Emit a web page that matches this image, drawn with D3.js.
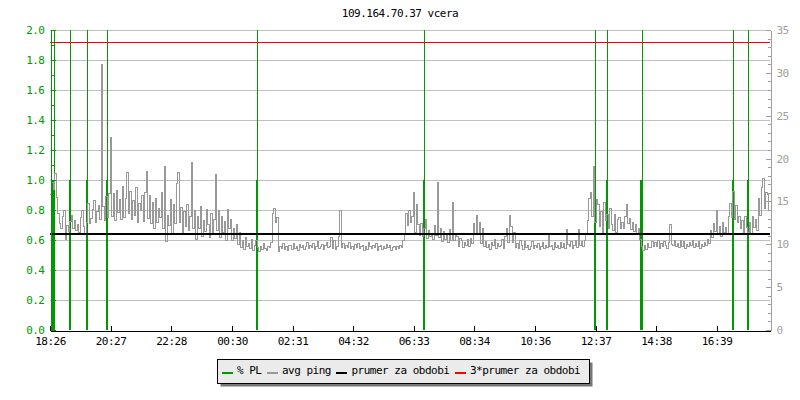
<!DOCTYPE html>
<meta charset="utf-8">
<style>

body { margin: 0; background: #fff; }

svg text {
  font-family: "DejaVu Sans Mono", monospace;
  font-size: 11px;
  letter-spacing: -0.5px;
}

.grid line {
  stroke: #c0c0c0;
  shape-rendering: crispEdges;
}

.axis path, .axis line {
  shape-rendering: crispEdges;
}

.axis--left path, .axis--left line { stroke: #009900; }
.axis--left text { fill: #009900; }
.axis--right path, .axis--right line { stroke: #a0a0a0; }
.axis--right text { fill: #a0a0a0; }
.axis--x path, .axis--x line { stroke: #000; }
.axis--x text { fill: #000; }

.ping {
  fill: none;
  stroke: #999999;
  stroke-width: 1px;
  shape-rendering: crispEdges;
}

</style>
<svg width="800" height="400"></svg>
<script src="https://cdn.jsdelivr.net/npm/d3@7/dist/d3.min.js"></script>
<script>

var title = "109.164.70.37 vcera";
var startTime = "18:26";
var timeLabels = ["18:26", "20:27", "22:28", "00:30", "02:31", "04:32",
                  "06:33", "08:34", "10:36", "12:37", "14:38", "16:39"];

// avg ping [ms], one sample every pingStep minutes from startTime
var pingStep = 3;
var pingValues = [
  15.8, 17.2, 16.4, 18.3, 15.5, 13.6, 12.4, 11.8, 13.3, 13.9,
  10.6, 12.2, 11.5, 12.7, 13.4, 11.9, 12.8, 11.6, 12.3, 11.4,
  13.1, 13.9, 12.1, 11.2, 12.6, 14.8, 12.4, 13.0, 14.1, 15.1,
  12.6, 13.8, 14.5, 12.9, 31.0, 14.4, 12.8, 15.6, 13.1, 15.9,
  22.5, 13.2, 15.9, 12.8, 16.3, 13.7, 15.2, 12.9, 16.8, 13.1,
  15.4, 18.4, 13.6, 16.2, 12.9, 15.1, 13.4, 16.6, 12.5, 14.8,
  13.9, 15.7, 12.7, 16.1, 18.5, 13.0, 15.7, 12.4, 14.9, 11.8,
  15.3, 12.6, 14.2, 13.1, 16.0, 11.9, 19.1, 10.3, 13.4, 12.2,
  15.2, 11.3, 14.6, 12.4, 17.1, 18.4, 12.6, 14.3, 11.4, 13.8,
  12.1, 14.7, 11.6, 13.2, 19.6, 11.9, 14.0, 10.6, 13.2, 11.8,
  14.4, 10.9, 12.8, 11.5, 14.1, 12.3, 10.8, 13.6, 11.2, 12.9,
  18.1, 11.6, 13.9, 10.8, 13.2, 11.4, 12.7, 10.5, 14.1, 11.9,
  12.9, 10.4, 11.8, 10.7, 12.3, 10.0, 11.4, 9.6, 10.4, 9.4,
  10.8, 9.7, 10.1, 9.5, 10.6, 9.3, 9.9, 10.4, 9.6, 9.2,
  9.8, 9.4, 10.1, 9.5, 9.3, 9.8, 9.6, 10.2, 13.6, 14.2,
  12.5, 13.1, 9.2, 9.8, 9.5, 10.1, 9.4, 9.7, 9.3, 9.9,
  9.9, 9.4, 10.1, 9.5, 9.8, 9.3, 10.0, 9.6, 9.9, 9.4,
  9.7, 10.2, 9.5, 9.9, 9.6, 10.1, 9.4, 9.8, 10.3, 9.5,
  9.7, 10.0, 9.4, 9.9, 10.2, 9.6, 9.8, 10.8, 9.5, 10.4,
  9.4, 9.8, 10.9, 13.9, 9.6, 10.1, 9.5, 9.9, 9.6, 10.2,
  9.5, 9.8, 9.4, 10.0, 9.6, 10.1, 9.5, 9.8, 9.9, 9.3,
  9.7, 9.4, 10.2, 9.8, 9.5, 9.9, 9.6, 10.1, 9.3, 9.7,
  9.9, 9.4, 9.8, 9.5, 10.0, 9.6, 9.9, 9.3, 9.6, 9.8,
  9.4, 9.7, 9.5, 9.9, 9.6, 10.4, 11.2, 13.6, 12.2, 14.0,
  12.5, 13.2, 16.1, 11.4, 14.6, 12.3, 11.0, 12.4, 10.9, 11.8,
  12.9, 10.7, 11.6, 10.9, 11.3, 10.6, 12.2, 11.0, 17.2, 10.8,
  11.9, 10.3, 11.5, 10.6, 11.1, 10.2, 11.7, 10.4, 14.9, 10.4,
  11.3, 10.9, 9.8, 10.7, 10.5, 9.6, 10.2, 9.9, 10.6, 9.7,
  10.7, 10.1, 12.4, 11.3, 13.4, 11.2, 12.6, 10.1, 11.8, 9.8,
  10.3, 9.6, 10.0, 9.4, 10.2, 9.9, 10.6, 9.5, 10.1, 9.7,
  9.9, 10.6, 9.5, 10.9, 11.8, 10.2, 13.4, 12.1, 10.2, 11.4,
  9.6, 10.1, 9.5, 10.4, 9.9, 9.4, 10.3, 9.6, 9.9, 9.4,
  9.8, 10.3, 9.5, 9.9, 9.6, 10.1, 9.4, 9.8, 10.2, 9.5,
  9.9, 9.6, 11.0, 9.7, 9.9, 9.4, 10.2, 9.6, 9.9, 9.5,
  10.2, 9.6, 10.1, 9.5, 11.7, 10.0, 9.8, 10.3, 9.5, 9.9,
  10.4, 9.6, 11.7, 9.9, 10.3, 9.7, 10.4, 11.2, 12.8, 15.4,
  16.0, 13.2, 19.1, 12.6, 15.2, 14.6, 12.1, 13.8, 11.4, 14.9,
  12.8, 13.5, 11.9, 14.2, 12.3, 11.6, 13.5, 11.4, 12.9, 13.1,
  11.8, 12.5, 11.9, 13.2, 14.6, 12.4, 13.0, 11.7, 12.6, 11.5,
  12.3, 11.2, 11.9, 10.6, 9.8, 9.3, 9.9, 9.4, 10.1, 9.6,
  9.6, 10.3, 9.7, 10.2, 9.8, 10.4, 9.5, 10.1, 9.7, 10.3,
  9.9, 9.5, 10.2, 12.3, 10.0, 9.9, 10.5, 9.7, 10.1, 9.6,
  10.4, 9.8, 10.3, 9.5, 10.0, 9.7, 10.2, 9.9, 10.4, 9.6,
  10.1, 9.8, 10.3, 9.5, 10.0, 9.7, 10.2, 9.9, 10.6, 10.1,
  11.6, 10.8, 12.4, 11.5, 14.0, 11.2, 12.1, 10.9, 12.6, 11.4,
  12.0, 11.1, 13.2, 14.8, 13.1, 16.2, 12.9, 14.5, 12.6, 13.3,
  11.9, 12.8, 11.3, 13.2, 12.0, 11.4, 12.6, 11.2, 13.2, 12.0,
  12.9, 11.6, 15.3, 13.4, 16.6, 17.7, 14.2, 16.1, 15.8, 13.9
];

// packet loss [%]: bars and their short peaks
var plTimes     = ["18:29", "18:34", "19:05", "19:40", "20:20", "01:20",
                   "06:54", "12:36", "13:00", "14:09", "17:12", "17:42"];
var plValues    = [1.0, 1.0, 1.0, 1.0, 1.0, 1.0, 1.0, 0.87, 1.0, 1.0, 1.0, 1.0];
var plPeaks     = [0, 5, 5, 5, 5, 5, 5, 5, 5, 5, 5, 5];
var plDurations = [4, 4, 4, 4, 4, 4, 4, 4, 4, 6, 4, 4];

var meanPing = 11.19;

var seriesNames  = ["% PL", "avg ping", "prumer za obdobi", "3*prumer za obdobi"];
var seriesColors = ["#009900", "#999999", "#000000", "#ff0000"];

var svg = d3.select("svg"),
    margin = {top: 30, right: 30, bottom: 70, left: 50},
    width = svg.attr("width") - margin.left - margin.right,
    height = svg.attr("height") - margin.top - margin.bottom,
    g = svg.append("g").attr("transform", "translate(" + margin.left + "," + margin.top + ")");

var parseHM = d3.timeParse("%H:%M");
var start = parseHM(startTime);

function toDate(s) {
  var d = parseHM(s);
  if (d < start) d = d3.timeDay.offset(d, 1);
  return d;
}

var x = d3.scaleTime().domain([start, d3.timeDay.offset(start, 1)]).range([0, width]),
    y = d3.scaleLinear().domain([0, 2]).range([height, 0]).clamp(true),
    yR = d3.scaleLinear().domain([0, 35]).range([height, 0]);

// title
svg.append("text")
    .attr("x", 400)
    .attr("y", 17)
    .attr("text-anchor", "middle")
    .attr("fill", "#000")
    .text(title);

// grid
g.append("g")
    .attr("class", "grid")
  .selectAll("line")
  .data(y.ticks(10).filter(function(d) { return d > 0; }))
  .enter().append("line")
    .attr("x1", 0)
    .attr("x2", width)
    .attr("y1", function(d) { return Math.round(y(d)) + 0.5; })
    .attr("y2", function(d) { return Math.round(y(d)) + 0.5; });

// % PL
var pl = plTimes.map(function(t, i) {
  return {time: toDate(t), value: plValues[i], peak: plPeaks[i], dur: plDurations[i]};
});

g.append("g").selectAll("rect")
  .data(pl)
  .enter().append("rect")
    .attr("x", function(d) { return x(d3.timeMinute.offset(d.time, -d.dur / 2)); })
    .attr("width", function(d) { return x(d3.timeMinute.offset(d.time, d.dur)) - x(d.time); })
    .attr("y", function(d) { return y(d.value); })
    .attr("height", function(d) { return y(0) - y(d.value); })
    .attr("fill", seriesColors[0])
    .style("shape-rendering", "crispEdges");

g.append("g").selectAll("line")
  .data(pl.filter(function(d) { return d.peak > 0; }))
  .enter().append("line")
    .attr("x1", function(d) { return Math.round(x(d.time)) + 0.5; })
    .attr("x2", function(d) { return Math.round(x(d.time)) + 0.5; })
    .attr("y1", y(0))
    .attr("y2", function(d) { return y(d.peak); })
    .attr("stroke", seriesColors[0])
    .style("shape-rendering", "crispEdges");

// avg ping
var ping = pingValues.map(function(v, i) {
  return {time: d3.timeMinute.offset(start, i * pingStep), value: v};
});

var line = d3.line()
    .curve(d3.curveStepAfter)
    .x(function(d) { return x(d.time); })
    .y(function(d) { return yR(d.value); });

g.append("path")
    .datum(ping)
    .attr("class", "ping")
    .attr("d", line);

// mean and 3*mean
g.append("line")
    .attr("x1", 0).attr("x2", width)
    .attr("y1", Math.round(yR(meanPing))).attr("y2", Math.round(yR(meanPing)))
    .attr("stroke", seriesColors[2])
    .attr("stroke-width", 2)
    .style("shape-rendering", "crispEdges");

g.append("line")
    .attr("x1", 0).attr("x2", width)
    .attr("y1", Math.round(yR(3 * meanPing)) + 0.5).attr("y2", Math.round(yR(3 * meanPing)) + 0.5)
    .attr("stroke", seriesColors[3])
    .attr("stroke-width", 1.3)
    .style("shape-rendering", "crispEdges");

// axes
g.append("g")
    .attr("class", "axis axis--x")
    .attr("transform", "translate(0," + (height + 0.5) + ")")
    .call(d3.axisBottom(x)
      .tickValues(timeLabels.map(toDate))
      .tickFormat(d3.timeFormat("%H:%M"))
      .tickSize(-5).tickSizeOuter(0).tickPadding(7));

g.append("g")
    .attr("class", "axis axis--right")
    .attr("transform", "translate(" + (width + 0.5) + ",0)")
    .call(d3.axisRight(yR).tickValues(d3.range(0, 36, 1)).tickSize(-3).tickSizeOuter(0).tickFormat(""));

g.append("g")
    .attr("class", "axis axis--right")
    .attr("transform", "translate(" + (width + 0.5) + ",0)")
    .call(d3.axisRight(yR).ticks(7).tickSize(-5).tickSizeOuter(0).tickPadding(6));

g.append("g")
    .attr("class", "axis axis--left")
    .attr("transform", "translate(0.5,0)")
    .call(d3.axisLeft(y).tickValues(d3.range(0, 2.05, 0.1)).tickSize(-3).tickSizeOuter(0).tickFormat(""));

g.append("g")
    .attr("class", "axis axis--left")
    .attr("transform", "translate(0.5,0)")
    .call(d3.axisLeft(y).ticks(10).tickFormat(d3.format(".1f")).tickSize(-5).tickSizeOuter(0).tickPadding(6));

svg.selectAll(".axis text").attr("font-family", null).attr("font-size", null);

// legend
var legend = svg.append("g").attr("transform", "translate(217.5,359.5)");
var shadow = legend.append("rect").attr("x", 3).attr("y", 3).attr("fill", "#777");
var box = legend.append("rect").attr("fill", "#ebebeb").attr("stroke", "#000")
    .style("shape-rendering", "crispEdges");

var cx = 4.5;
seriesNames.forEach(function(name, i) {
  legend.append("line")
      .attr("x1", cx).attr("x2", cx + 11)
      .attr("y1", 13).attr("y2", 13)
      .attr("stroke", seriesColors[i])
      .attr("stroke-width", 2)
      .style("shape-rendering", "crispEdges");
  var t = legend.append("text")
      .attr("x", cx + 15)
      .attr("y", 11)
      .attr("dy", "0.35em")
      .attr("fill", "#000")
      .text(name);
  cx += 15 + t.node().getComputedTextLength() + 5.5;
});

var boxW = Math.round(cx + 4), boxH = 24;
shadow.attr("width", boxW).attr("height", boxH);
box.attr("width", boxW).attr("height", boxH);

</script>
